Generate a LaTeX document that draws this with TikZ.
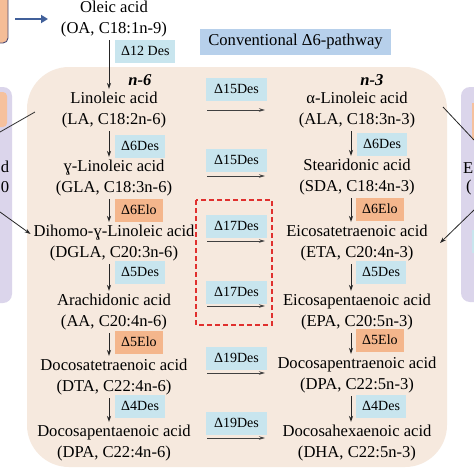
\documentclass[tikz,border=0pt]{standalone}
\usepackage{fontspec}
\setmainfont{Liberation Serif}
\usetikzlibrary{arrows.meta}
\definecolor{beige}{HTML}{F6E9DE}
\definecolor{lblue}{HTML}{C8E5EE}
\definecolor{lorange}{HTML}{F4B68C}
\definecolor{convblue}{HTML}{B7D0EB}
\definecolor{lpurple}{HTML}{DBD5EB}
\definecolor{redd}{HTML}{E0302E}
\definecolor{darkblue}{HTML}{41609A}
\begin{document}
\begin{tikzpicture}[x=1pt,y=-1pt,
  acid/.style={align=center,inner sep=0pt,outer sep=3pt,font=\fontsize{16.6}{21}\selectfont},
  enz/.style={inner xsep=6pt,inner ysep=0pt,minimum height=23pt,font=\fontsize{14}{15}\selectfont},
  bluelab/.style={enz,fill=lblue},
  orlab/.style={enz,fill=lorange},
  midlab/.style={bluelab,minimum width=61pt},
  varrow/.style={-{Stealth[length=6pt,width=4pt]},line width=0.8pt,black!85},
  harrow/.style={-{Stealth[length=6pt,width=3.5pt]},line width=0.9pt,black!75},
  ser/.style={font=\fontsize{16.6}{21}\selectfont,inner sep=0pt},
  tag/.style={font=\fontsize{16.6}{21}\selectfont\bfseries\itshape,inner sep=0pt}]
\useasboundingbox (0,0) rectangle (474,474);
\clip (0,0) rectangle (474,474);
\fill[white] (0,0) rectangle (474,474);

% background panels
\fill[beige,rounded corners=42pt] (27,67) rectangle (447,467);
\fill[lpurple,rounded corners=9pt] (-30,87) rectangle (12,303);
\fill[lorange!85!white,rounded corners=4pt] (-30,92) rectangle (7,127);
\fill[lpurple,rounded corners=9pt] (461,87) rectangle (510,302);
\fill[lorange!85!white] (472,103) rectangle (510,140);
\fill[lblue] (472,230) rectangle (510,253);
\draw[fill=lorange!90!white,draw=black!60!blue!40!gray,line width=0.9pt,rounded corners=5pt] (-30,-10) rectangle (8,43);

% partial texts at the edges
\node[ser] (ltxt1) at (5,167) {d};
\node[ser] (ltxt2) at (5,187) {0};
\node[ser,anchor=west] (rtxt1) at (463,168) {E};
\node[ser,anchor=west] (rtxt2) at (466,188) {(};

% conventional header
\node[fill=convblue,minimum width=191pt,minimum height=26pt,inner sep=0pt,font=\fontsize{16.6}{21}\selectfont] (conv) at (295.5,42) {Conventional Δ6-pathway};

% acids
\node[acid] (OA) at (114,19) {Oleic acid\\(OA, C18:1n-9)};
\node[acid] (LA) at (114,110) {Linoleic acid\\(LA, C18:2n-6)};
\node[acid] (GLA) at (114,178) {ɣ-Linoleic acid\\(GLA, C18:3n-6)};
\node[acid] (DGLA) at (114,243) {Dihomo-ɣ-Linoleic acid\\(DGLA, C20:3n-6)};
\node[acid] (AA) at (114,312) {Arachidonic acid\\(AA, C20:4n-6)};
\node[acid] (DTA) at (114,377) {Docosatetraenoic acid\\(DTA, C22:4n-6)};
\node[acid] (DPA6) at (114,443) {Docosapentaenoic acid\\(DPA, C22:4n-6)};

\node[acid] (ALA) at (357,110) {α-Linoleic acid\\(ALA, C18:3n-3)};
\node[acid] (SDA) at (357,177) {Stearidonic acid\\(SDA, C18:4n-3)};
\node[acid] (ETA) at (357,243) {Eicosatetraenoic acid\\(ETA, C20:4n-3)};
\node[acid] (EPA) at (357,312) {Eicosapentaenoic acid\\(EPA, C20:5n-3)};
\node[acid] (DPA3) at (357,375) {Docosapentraenoic acid\\(DPA, C22:5n-3)};
\node[acid] (DHA) at (357,443) {Docosahexaenoic acid\\(DHA, C22:5n-3)};

\node[tag] (n6) at (140,80) {n-6};
\node[tag] (n3) at (372,80) {n-3};

% column x positions
\coordinate (lx) at (109,0);
\coordinate (rx) at (351,0);

% vertical arrows
\draw[varrow] (OA.south -| lx) -- (LA.north -| lx);
\draw[varrow] (LA.south -| lx) -- (GLA.north -| lx);
\draw[varrow] (GLA.south -| lx) -- (DGLA.north -| lx);
\draw[varrow] (DGLA.south -| lx) -- (AA.north -| lx);
\draw[varrow] (AA.south -| lx) -- (DTA.north -| lx);
\draw[varrow] (DTA.south -| lx) -- (DPA6.north -| lx);

\draw[varrow] (ALA.south -| rx) -- (SDA.north -| rx);
\draw[varrow] (SDA.south -| rx) -- (ETA.north -| rx);
\draw[varrow] (ETA.south -| rx) -- (EPA.north -| rx);
\draw[varrow] (EPA.south -| rx) -- (DPA3.north -| rx);
\draw[varrow] (DPA3.south -| rx) -- (DHA.north -| rx);

% enzyme labels, left column
\node[bluelab,anchor=west] (e12) at (115,51) {Δ12 Des};
\node[bluelab,anchor=west] (e6l) at (115,146) {Δ6Des};
\node[orlab,anchor=west] (e6el) at (115,210) {Δ6Elo};
\node[bluelab,anchor=west] (e5l) at (115,272) {Δ5Des};
\node[orlab,anchor=west] (e5el) at (115,342) {Δ5Elo};
\node[bluelab,anchor=west] (e4l) at (115,406) {Δ4Des};

% enzyme labels, right column
\node[bluelab,anchor=west] (e6r) at (357,144) {Δ6Des};
\node[orlab,anchor=west] (e6er) at (356,209) {Δ6Elo};
\node[bluelab,anchor=west] (e5r) at (356,272) {Δ5Des};
\node[orlab,anchor=west] (e5er) at (356,340) {Δ5Elo};
\node[bluelab,anchor=west] (e4r) at (356,406) {Δ4Des};

% middle labels and arrows
\node[midlab] (m1) at (236.5,89) {Δ15Des};
\node[midlab] (m2) at (236.5,160) {Δ15Des};
\node[midlab] (m3) at (236.5,226) {Δ17Des};
\node[midlab] (m4) at (236.5,292) {Δ17Des};
\node[midlab] (m5) at (236.5,358) {Δ19Des};
\node[midlab] (m6) at (236.5,423) {Δ19Des};

\coordinate (a1s) at (207,110); \coordinate (a1e) at (265,110);
\coordinate (a2s) at (207,176); \coordinate (a2e) at (265,176);
\coordinate (a3s) at (207,241); \coordinate (a3e) at (265,241);
\coordinate (a4s) at (207,306); \coordinate (a4e) at (265,306);
\coordinate (a5s) at (207,373); \coordinate (a5e) at (265,373);
\coordinate (a6s) at (207,438); \coordinate (a6e) at (265,438);
\draw[harrow] (a1s) -- (a1e);
\draw[harrow] (a2s) -- (a2e);
\draw[harrow] (a3s) -- (a3e);
\draw[harrow] (a4s) -- (a4e);
\draw[harrow] (a5s) -- (a5e);
\draw[harrow] (a6s) -- (a6e);

% red dashed frame
\draw[redd,line width=1.6pt,dash pattern=on 5pt off 3pt] (196,200) rectangle (272,325);

% side connectors
\coordinate (tl1) at (15,19); \coordinate (tl2) at (48,19);
\draw[darkblue,line width=2.6pt,-{Triangle[length=7pt,width=8pt]}] (tl1) -- (tl2);
\coordinate (ll1) at (0,132); \coordinate (ll2) at (35,112);
\draw[line width=0.8pt,black!85] (ll1) -- (ll2);
\coordinate (la1) at (0,212);
\draw[varrow] (la1) -- (DGLA.west |- 0,234);
\coordinate (rl1) at (443,107); \coordinate (rl2) at (474,140);
\draw[line width=0.8pt,black!85] (rl1) -- (rl2);
\coordinate (ra1) at (474,210); \coordinate (ra2) at (440,243);
\draw[varrow] (ra1) -- (ra2);
\end{tikzpicture}
\end{document}
